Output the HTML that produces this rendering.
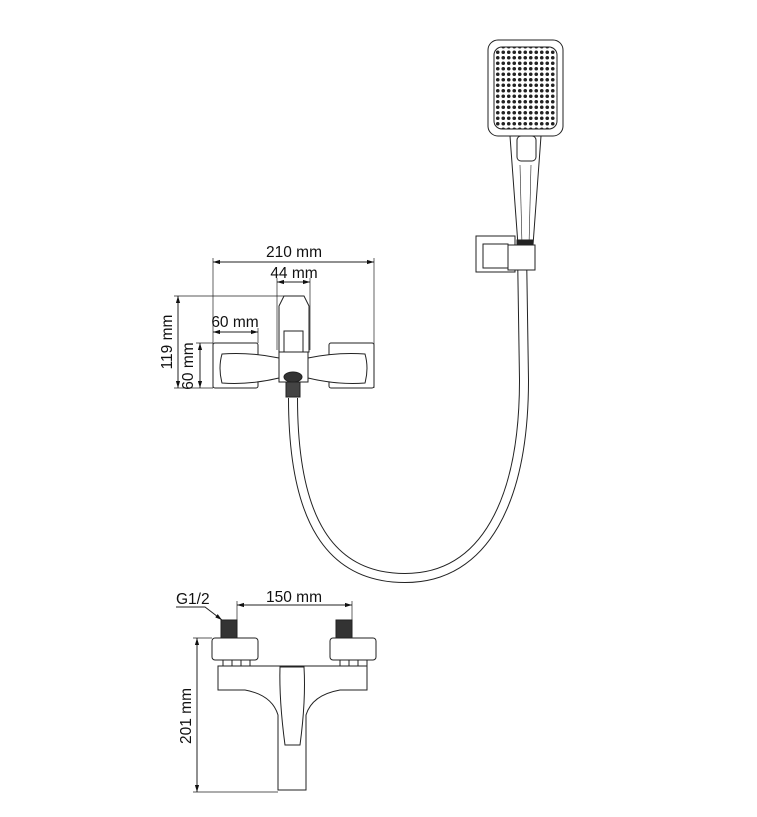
<!DOCTYPE html>
<html><head><meta charset="utf-8"><style>
html,body{margin:0;padding:0;background:#fff;}
svg{display:block}
text{font-family:"Liberation Sans",sans-serif;font-size:15.5px;fill:#111}
</style></head><body>
<svg width="757" height="817" viewBox="0 0 757 817" xmlns="http://www.w3.org/2000/svg">
<defs>
<marker id="a" viewBox="0 0 10 10" refX="10" refY="5" markerWidth="7" markerHeight="7" orient="auto-start-reverse"><path d="M0,2 L10,5 L0,8z" fill="#111"/></marker>
<pattern id="dots" width="5.5" height="5.5" patternUnits="userSpaceOnUse"><circle cx="2.75" cy="2.75" r="1.8" fill="#222"/></pattern>
<clipPath id="hc"><rect x="494" y="47" width="63" height="82" rx="8"/></clipPath>
</defs>
<g fill="none" stroke="#222" stroke-width="1">
<path d="M293,398 C293,520 330,578 405,578 C485,578 524,500 524,380 L522,250" stroke="#222" stroke-width="10"/>
<path d="M293,398 C293,520 330,578 405,578 C485,578 524,500 524,380 L522,250" stroke="#fff" stroke-width="8"/>
<line x1="213" y1="262" x2="374" y2="262" marker-start="url(#a)" marker-end="url(#a)"/>
<line x1="213" y1="258" x2="213" y2="388" stroke-width=".7"/>
<line x1="374" y1="258" x2="374" y2="388" stroke-width=".7"/>
<line x1="277" y1="282" x2="310" y2="282" marker-start="url(#a)" marker-end="url(#a)"/>
<line x1="277" y1="278" x2="277" y2="350" stroke-width=".7"/>
<line x1="310" y1="278" x2="310" y2="350" stroke-width=".7"/>
<line x1="178" y1="296" x2="178" y2="388" marker-start="url(#a)" marker-end="url(#a)"/>
<line x1="174" y1="296" x2="300" y2="296" stroke-width=".7"/>
<line x1="200" y1="343" x2="200" y2="388" marker-start="url(#a)" marker-end="url(#a)"/>
<line x1="196" y1="343" x2="213" y2="343" stroke-width=".7"/>
<line x1="174" y1="388" x2="213" y2="388" stroke-width=".7"/>
<line x1="213" y1="332" x2="258" y2="332" marker-start="url(#a)" marker-end="url(#a)"/>
<line x1="258" y1="328" x2="258" y2="343" stroke-width=".7"/>
<rect x="213" y="343" width="45" height="45" rx="2"/>
<rect x="329" y="343" width="45" height="45" rx="2"/>
<path d="M222,354 Q250,352 279,358 L279,378 Q250,385 222,383 Q218,368 222,354z" fill="#fff"/>
<path d="M365,354 Q337,352 308,358 L308,378 Q337,385 365,383 Q369,368 365,354z" fill="#fff"/>
<path d="M284,296 L304,296 L309,306 L309,352 L279,352 L279,306z" fill="#fff"/>
<rect x="284" y="331" width="19" height="21"/>
<rect x="279" y="352" width="29" height="30" fill="#fff"/>
<ellipse cx="293" cy="377" rx="9" ry="5" fill="#333"/>
<rect x="286" y="382" width="14" height="15" fill="#444"/>
<rect x="488" y="40" width="75" height="96" rx="10" fill="#fff"/>
<rect x="494" y="47" width="63" height="82" rx="8"/>
<rect x="494" y="47" width="63" height="82" fill="url(#dots)" stroke="none" clip-path="url(#hc)"/>
<path d="M510,136 L541,136 L533,245 L518,245z" fill="#fff"/>
<line x1="520" y1="165" x2="522" y2="245" stroke-width=".6"/>
<line x1="531" y1="165" x2="529" y2="245" stroke-width=".6"/>
<rect x="517" y="136" width="19" height="25" rx="4" fill="#fff"/>
<rect x="476" y="236" width="39" height="36"/>
<rect x="483" y="244" width="25" height="24"/>
<rect x="508" y="245" width="27" height="25" fill="#fff"/>
<rect x="517" y="240" width="16" height="5" fill="#222"/>
<line x1="237" y1="605" x2="352" y2="605" marker-start="url(#a)" marker-end="url(#a)"/>
<line x1="237" y1="601" x2="237" y2="620" stroke-width=".7"/>
<line x1="352" y1="601" x2="352" y2="620" stroke-width=".7"/>
<path d="M176,607 L205,607 L222,620" marker-end="url(#a)"/>
<rect x="221" y="620" width="16" height="18" fill="#333"/>
<rect x="336" y="620" width="16" height="18" fill="#333"/>
<rect x="212" y="638" width="46" height="22" rx="3" fill="#fff"/>
<rect x="330" y="638" width="46" height="22" rx="3" fill="#fff"/>
<rect x="223" y="660" width="27" height="14"/>
<line x1="232" y1="660" x2="232" y2="674"/><line x1="241" y1="660" x2="241" y2="674"/>
<rect x="340" y="660" width="27" height="14"/>
<line x1="349" y1="660" x2="349" y2="674"/><line x1="358" y1="660" x2="358" y2="674"/>
<path d="M218,666 L367,666 L367,690 L340,690 Q312,695 306,715 L306,790 L278,790 L278,715 Q272,695 245,690 L218,690z" fill="#fff"/>
<path d="M280,667 L304,667 Q306,700 300,745 L285,745 Q279,700 280,667z"/>
<line x1="197" y1="638" x2="197" y2="792" marker-start="url(#a)" marker-end="url(#a)"/>
<line x1="193" y1="638" x2="212" y2="638" stroke-width=".7"/>
<line x1="193" y1="792" x2="278" y2="792" stroke-width=".7"/>
</g>
<text x="294" y="257" text-anchor="middle">210 mm</text>
<text x="294" y="278" text-anchor="middle">44 mm</text>
<text x="235" y="327" text-anchor="middle">60 mm</text>
<text transform="translate(172,342) rotate(-90)" text-anchor="middle">119 mm</text>
<text transform="translate(193,366) rotate(-90)" text-anchor="middle">60 mm</text>
<text x="294" y="602" text-anchor="middle">150 mm</text>
<text x="176" y="604">G1/2</text>
<text transform="translate(191,716) rotate(-90)" text-anchor="middle">201 mm</text>
</svg>
</body></html>
